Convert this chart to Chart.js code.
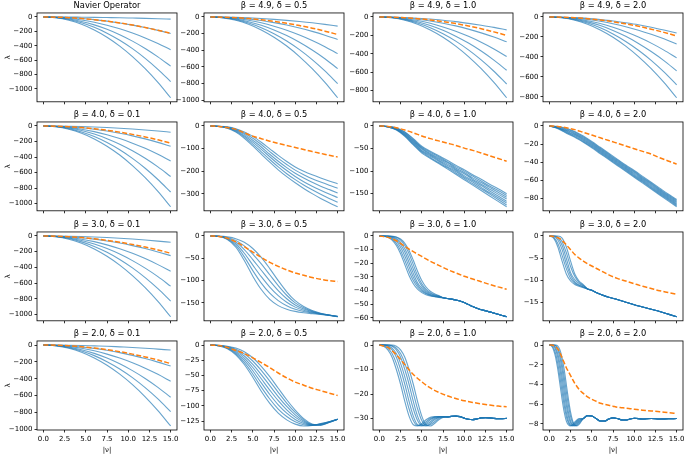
<!DOCTYPE html>
<html>
<head>
<meta charset="utf-8">
<script src="https://cdn.jsdelivr.net/npm/chart.js@4.4.0/dist/chart.umd.min.js"></script>
<style>
html, body { margin: 0; padding: 0; background: #fff; overflow: hidden; width: 685px; height: 454px; }
#fig { position: relative; width: 685px; height: 454px; overflow: hidden; }
#fig canvas { position: absolute; }
</style>
</head>
<body>
<div id="fig"></div>
<script>
// sample positions along |nu|
var xFan = [0, 1.5, 3, 4.5, 6, 7.5, 9, 10.5, 12, 13.5, 15];
var xOne = [0, 1, 2, 3, 4, 5, 6, 7, 8, 9, 10, 11, 12, 13, 14, 15];
var xHalf = [0, 0.5, 1, 1.5, 2, 2.5, 3, 3.5, 4, 4.5, 5, 5.5, 6, 6.5, 7, 7.5, 8, 8.5, 9, 9.5, 10, 10.5, 11, 11.5, 12, 12.5, 13, 13.5, 14, 14.5, 15];
var x11 = [0, 0.5, 1, 1.5, 2, 2.5, 3, 3.5, 4, 4.5, 5, 5.5, 6, 7, 8, 9, 10, 11, 12, 13, 14, 15];
var x15 = [0, 0.25, 0.5, 0.75, 1, 1.25, 1.5, 1.75, 2, 2.25, 2.5, 2.75, 3, 3.25, 3.5, 4, 4.5, 5, 5.5, 6, 6.5, 7, 7.5, 8, 8.5, 9, 9.5, 10, 11, 12, 13, 14, 15];

var X_TICKS = [0, 2.5, 5, 7.5, 10, 12.5, 15];

var TITLES = [
  'Navier Operator', 'β = 4.9, δ = 0.5', 'β = 4.9, δ = 1.0', 'β = 4.9, δ = 2.0',
  'β = 4.0, δ = 0.1', 'β = 4.0, δ = 0.5', 'β = 4.0, δ = 1.0', 'β = 4.0, δ = 2.0',
  'β = 3.0, δ = 0.1', 'β = 3.0, δ = 0.5', 'β = 3.0, δ = 1.0', 'β = 3.0, δ = 2.0',
  'β = 2.0, δ = 0.1', 'β = 2.0, δ = 0.5', 'β = 2.0, δ = 1.0', 'β = 2.0, δ = 2.0'
];

var Y_TICKS = [
  [0, -200, -400, -600, -800, -1000], [0, -200, -400, -600, -800, -1000], [0, -200, -400, -600, -800], [0, -200, -400, -600, -800],
  [0, -200, -400, -600, -800, -1000], [0, -100, -200, -300], [0, -50, -100, -150], [0, -20, -40, -60, -80],
  [0, -200, -400, -600, -800, -1000], [0, -50, -100, -150], [0, -10, -20, -30, -40, -50, -60], [0, -5, -10, -15],
  [0, -200, -400, -600, -800, -1000], [0, -25, -50, -75, -100, -125], [0, -10, -20, -30], [0, -2, -4, -6, -8]
];

// row 1
var navBlue = [
  [0, 0, -1, -3, -5, -8, -11, -15, -19, -24, -30],
  [0, -2, -9, -21, -37, -58, -83, -113, -147, -186, -230],
  [0, -5, -18, -41, -73, -114, -164, -223, -291, -369, -455],
  [0, -7, -27, -62, -110, -171, -247, -336, -438, -555, -685],
  [0, -9, -36, -81, -144, -225, -324, -441, -576, -729, -900],
  [0, -11, -45, -101, -180, -281, -405, -551, -720, -911, -1125]
];
var navOrange = [0, -2, -9, -21, -37, -58, -83, -112, -146, -185, -228];

var b49d05Blue = [
  [0, -1, -4, -10, -18, -28, -40, -54, -70, -89, -110],
  [0, -3, -11, -24, -43, -68, -97, -132, -173, -219, -270],
  [0, -4, -18, -40, -70, -110, -158, -216, -282, -356, -440],
  [0, -6, -25, -56, -99, -155, -223, -304, -397, -502, -620],
  [0, -8, -32, -72, -128, -200, -288, -392, -512, -648, -800],
  [0, -10, -39, -87, -155, -243, -349, -475, -621, -786, -970]
];
var b49d05Orange = [0, -2, -8, -19, -34, -53, -76, -103, -134, -170, -210];

var b49d10Blue = [
  [0, -1, -6, -13, -22, -35, -50, -69, -90, -113, -140],
  [0, -3, -11, -24, -43, -68, -97, -132, -173, -219, -270],
  [0, -4, -17, -39, -69, -108, -155, -211, -275, -348, -430],
  [0, -6, -23, -52, -93, -145, -209, -284, -371, -470, -580],
  [0, -7, -29, -66, -117, -183, -263, -358, -467, -591, -730],
  [0, -9, -35, -79, -141, -220, -317, -431, -563, -713, -880]
];
var b49d10Orange = [0, -2, -8, -18, -32, -50, -72, -98, -128, -162, -200];

var b49d20Blue = [
  [0, -2, -6, -14, -26, -40, -58, -78, -102, -130, -160],
  [0, -3, -11, -24, -43, -68, -97, -132, -173, -219, -270],
  [0, -4, -16, -37, -66, -103, -148, -201, -262, -332, -410],
  [0, -5, -22, -49, -86, -135, -194, -265, -346, -437, -540],
  [0, -7, -27, -61, -109, -170, -245, -333, -435, -551, -680],
  [0, -8, -32, -73, -130, -203, -292, -397, -518, -656, -810]
];
var b49d20Orange = [0, -2, -8, -17, -30, -48, -68, -93, -122, -154, -190];

// row 2
var b40d01Blue = [
  [0, -1, -3, -7, -13, -20, -29, -39, -51, -65, -80],
  [0, -3, -10, -23, -42, -65, -94, -127, -166, -211, -260],
  [0, -5, -18, -41, -72, -113, -162, -221, -288, -365, -450],
  [0, -7, -26, -59, -104, -163, -234, -319, -416, -527, -650],
  [0, -9, -34, -77, -136, -213, -306, -417, -544, -689, -850],
  [0, -10, -42, -94, -166, -260, -374, -510, -666, -842, -1040]
];
var b40d01Orange = [0, -2, -9, -20, -35, -55, -79, -108, -141, -178, -220];

var b40d05Blue = [
  [0, -1, -4, -12, -26, -46, -72, -101, -130, -157, -181, -200, -216, -230, -243, -255],
  [0, -1, -5, -15, -32, -54, -82, -113, -143, -170, -195, -215, -233, -248, -262, -275],
  [0, -1, -6, -18, -37, -63, -93, -125, -156, -184, -209, -230, -249, -266, -281, -296],
  [0, -2, -8, -21, -43, -71, -103, -136, -168, -197, -223, -246, -266, -284, -301, -316],
  [0, -2, -9, -24, -48, -80, -114, -148, -181, -211, -237, -261, -282, -302, -320, -337],
  [0, -2, -10, -27, -54, -88, -124, -160, -194, -224, -251, -276, -299, -320, -339, -357]
];
var b40d05Orange = [0, -2, -7, -15, -30, -45, -56, -67, -77, -86, -95, -104, -113, -121, -129, -137];

var b40d10Blue = [
  [0, -1, -4, -13, -28, -45, -56, -66, -76, -87, -97, -108, -118, -129, -139, -150],
  [0, -1, -5, -14, -30, -47, -58, -68, -79, -90, -100, -111, -122, -133, -143, -154],
  [0, -1, -5, -16, -32, -49, -61, -71, -81, -93, -103, -115, -125, -136, -147, -158],
  [0, -1, -6, -17, -34, -51, -63, -73, -84, -96, -106, -118, -129, -140, -151, -162],
  [0, -2, -7, -19, -36, -54, -65, -76, -87, -98, -110, -121, -132, -144, -155, -167],
  [0, -2, -8, -20, -38, -56, -67, -78, -90, -101, -113, -124, -136, -148, -159, -171],
  [0, -2, -8, -22, -40, -58, -70, -81, -92, -104, -116, -128, -139, -151, -163, -175],
  [0, -2, -9, -23, -42, -60, -72, -83, -95, -107, -119, -131, -143, -155, -167, -179]
];
var b40d10Orange = [0, -1, -4, -9, -15, -22, -28, -33, -38, -43, -49, -54, -60, -66, -72, -78];

var b40d20Blue = [
  [0, -0.5, -2.5, -6, -11, -17, -23.5, -30, -36.5, -43, -49, -55.5, -62, -68.5, -75, -81],
  [0, -0.9, -3.3, -6.9, -12, -18, -24.5, -31, -37.5, -44, -50.1, -56.6, -63.1, -69.6, -76.1, -82.1],
  [0, -1.2, -4.1, -7.9, -13, -19, -25.5, -32, -38.5, -45, -51.1, -57.6, -64.1, -70.6, -77.1, -83.3],
  [0, -1.6, -4.9, -8.8, -14, -20, -26.5, -33, -39.5, -46, -52.2, -58.7, -65.2, -71.7, -78.2, -84.4],
  [0, -1.9, -5.6, -9.7, -15, -21, -27.5, -34, -40.5, -47, -53.3, -59.8, -66.3, -72.8, -79.3, -85.6],
  [0, -2.3, -6.4, -10.6, -16, -22, -28.5, -35, -41.5, -48, -54.4, -60.9, -67.4, -73.9, -80.4, -86.7],
  [0, -2.6, -7.2, -11.6, -17, -23, -29.5, -36, -42.5, -49, -55.4, -61.9, -68.4, -74.9, -81.4, -87.9],
  [0, -3, -8, -12.5, -18, -24, -30.5, -37, -43.5, -50, -56.5, -63, -69.5, -76, -82.5, -89]
];
var b40d20Orange = [0, -0.5, -2, -4, -7, -10, -13, -16, -19, -22, -25, -28, -31, -35, -38.5, -42];

// row 3
var b30d01Blue = [
  [0, -1, -3, -7, -13, -20, -29, -39, -51, -65, -80],
  [0, -3, -10, -23, -40, -63, -90, -123, -160, -203, -250],
  [0, -5, -18, -41, -72, -113, -162, -221, -288, -365, -450],
  [0, -6, -26, -58, -102, -160, -230, -314, -410, -518, -640],
  [0, -8, -33, -75, -133, -208, -299, -407, -531, -672, -830],
  [0, -10, -41, -93, -165, -258, -371, -505, -659, -834, -1030]
];
var b30d01Orange = [0, -2, -9, -20, -35, -55, -79, -108, -141, -178, -220];

var b30d05Blue = [
  [0, -1, -8, -25, -55, -90, -120, -142, -156, -164, -169, -172, -174, -176, -178, -180],
  [0, -0.9, -6.8, -21.2, -46.8, -77.6, -105.6, -128.2, -144.8, -156.2, -164.2, -169.2, -172.6, -175.4, -177.8, -180.2],
  [0, -0.7, -5.6, -17.4, -38.6, -65.2, -91.2, -114.4, -133.6, -148.4, -159.4, -166.4, -171.2, -174.8, -177.6, -180.4],
  [0, -0.6, -4.4, -13.6, -30.4, -52.8, -76.8, -100.6, -122.4, -140.6, -154.6, -163.6, -169.8, -174.2, -177.4, -180.6],
  [0, -0.4, -3.2, -9.8, -22.2, -40.4, -62.4, -86.8, -111.2, -132.8, -149.8, -160.8, -168.4, -173.6, -177.2, -180.8],
  [0, -0.3, -2, -6, -14, -28, -48, -73, -100, -125, -145, -158, -167, -173, -177, -181]
];
var b30d05Orange = [0, -1, -5, -13, -24, -36, -48, -59, -68, -76, -83, -88, -93, -97, -100, -102];

var b30d10Heads = [
  [0, -0.3, -1, -3, -7, -13, -21, -29, -35, -39, -41.5, -43, -44, -44.5, -45],
  [0, -0.2, -0.7, -2.2, -5.4, -10.6, -17.8, -25.8, -32.6, -37.4, -40.5, -42.4, -43.6, -44.3, -44.8],
  [0, -0.1, -0.4, -1.4, -3.8, -8.2, -14.6, -22.6, -30.2, -35.8, -39.5, -41.8, -43.2, -44.1, -44.6],
  [0, 0, -0.2, -0.9, -2.6, -6.2, -11.8, -19.4, -27.4, -34.2, -38.2, -41, -42.8, -43.9, -44.4],
  [0, 0, -0.1, -0.6, -1.8, -4.6, -9.4, -16.2, -24.2, -31.4, -36.6, -40, -42.2, -43.4, -44.2],
  [0, 0, 0, -0.3, -1, -3, -7, -13, -21, -29, -35, -39, -41.5, -43, -44],
  [0, 0, 0, -0.2, -0.7, -2.2, -5.4, -10.6, -17.8, -25.8, -32.6, -37.4, -40.5, -42.4, -43.6]
];
var b30d10Tail = [-45.3, -45.8, -46.3, -46.9, -47.7, -48.8, -50.2, -51.7, -53, -54, -54.8, -55.6, -56.5, -57.4, -58.3, -59.2];
var b30d10Orange = [0, -1, -3.5, -7.5, -11.5, -15, -18.5, -21.5, -24.5, -27, -29.5, -31.5, -33.5, -35.5, -37.3, -39];

var b30d20Heads = [
  [0, -0.5, -2.5, -5.7, -8.6, -10.2, -11, -11.4, -11.7],
  [0, -0.3, -1.7, -4.4, -7.4, -9.6, -10.7, -11.2, -11.6],
  [0, -0.1, -0.9, -3.1, -6.3, -8.9, -10.4, -11.1, -11.5],
  [0, 0, -0.4, -2.1, -5.1, -8.3, -9.9, -10.8, -11.3],
  [0, 0, -0.2, -1.3, -3.8, -6.9, -9.2, -10.5, -11.2],
  [0, 0, 0, -0.5, -2.5, -5.7, -8.6, -10.2, -11]
];
var b30d20Tail = [-12, -12.3, -12.8, -13.2, -13.9, -14.4, -15, -15.6, -16.1, -16.6, -17.1, -17.7, -18.3];
var b30d20Orange = [0, -0.1, -0.4, -1, -2, -3.1, -4.2, -5, -5.7, -6.3, -6.8, -7.3, -7.8, -8.8, -9.6, -10.2, -10.8, -11.4, -11.9, -12.4, -12.8, -13.2];

// row 4
var b20d01Blue = [
  [0, -1, -2, -5, -10, -15, -22, -29, -38, -49, -60],
  [0, -3, -10, -23, -40, -63, -90, -123, -160, -203, -250],
  [0, -4, -17, -39, -69, -108, -155, -211, -275, -348, -430],
  [0, -6, -25, -56, -99, -155, -223, -304, -397, -502, -620],
  [0, -8, -32, -71, -126, -198, -284, -387, -506, -640, -790],
  [0, -10, -38, -86, -154, -240, -346, -470, -614, -778, -960]
];
var b20d01Orange = [0, -2, -9, -20, -35, -55, -79, -108, -141, -178, -220];

var b20d05Blue = [
  [0, -1.5, -6, -16, -32, -53, -76, -96, -112, -123, -130, -133, -132, -129, -126, -122],
  [0, -1.3, -5.3, -14.2, -28.5, -47.7, -69.2, -88.7, -105.2, -117.5, -126.2, -131, -132, -129.5, -126, -122],
  [0, -1.2, -4.7, -12.3, -25, -42.3, -62.3, -81.3, -98.3, -112, -122.3, -129, -132, -130, -126.5, -122],
  [0, -1, -4, -10.5, -21.5, -37, -55.5, -74, -91.5, -106.5, -118.5, -127, -131.5, -130.5, -126.5, -122],
  [0, -0.8, -3.3, -8.7, -18, -31.7, -48.7, -66.7, -84.7, -101, -114.7, -125, -131, -131, -127, -122],
  [0, -0.7, -2.7, -6.8, -14.5, -26.3, -41.8, -59.3, -77.8, -95.5, -110.8, -123, -130.5, -131.5, -127, -122],
  [0, -0.5, -2, -5, -11, -21, -35, -52, -71, -90, -107, -121, -130, -132, -127.5, -122]
];
var b20d05Orange = [0, -1, -4, -9, -14, -21, -29, -37, -46, -54, -61, -66, -71, -75, -79, -83];

var b20d10Heads = [
  [0, -0.5, -2, -5, -10, -16, -23, -29, -32.5, -33, -32, -30.5, -29.5, -29.2, -29.2, -29.3],
  [0, -0.25, -1.25, -3.5, -7.5, -13, -19.5, -26, -30.8, -32.8, -32.5, -31.3, -30, -29.4, -29.2, -29.3],
  [0, 0, -0.5, -2, -5, -10, -16, -23, -29, -32.5, -33, -32, -30.5, -29.5, -29.2, -29.2],
  [0, 0, -0.25, -1.25, -3.5, -7.5, -13, -19.5, -26, -30.8, -32.8, -32.5, -31.3, -30, -29.4, -29.2],
  [0, 0, 0, -0.5, -2, -5, -10, -16, -23, -29, -32.5, -33, -32, -30.5, -29.5, -29.2],
  [0, 0, 0, -0.25, -1.25, -3.5, -7.5, -13, -19.5, -26, -30.8, -32.8, -32.5, -31.3, -30, -29.4],
  [0, 0, 0, 0, -0.5, -2, -5, -10, -16, -23, -29, -32.5, -33, -32, -30.5, -29.5]
];
var b20d10Tail = [-29.3, -29.1, -29, -29.2, -29.8, -30.3, -30.4, -30.1, -29.7, -29.6, -29.7, -29.9, -30, -30, -29.9];
var b20d10Orange = [0, -1, -4, -8, -12, -15, -17.5, -19.3, -20.7, -21.8, -22.7, -23.4, -24, -24.5, -24.9, -25.2];

var b20d20Heads = [
  [0, -0.1, -0.5, -1.3, -2.5, -4, -5.5, -6.8, -7.7, -8.1, -8.2, -8.05, -7.8, -7.6, -7.45],
  [0, -0.05, -0.3, -0.9, -1.9, -3.25, -4.75, -6.15, -7.25, -7.9, -8.15, -8.13, -7.93, -7.7, -7.53],
  [0, 0, -0.1, -0.5, -1.3, -2.5, -4, -5.5, -6.8, -7.7, -8.1, -8.2, -8.05, -7.8, -7.6],
  [0, 0, -0.05, -0.3, -0.9, -1.9, -3.25, -4.75, -6.15, -7.25, -7.9, -8.15, -8.13, -7.93, -7.7],
  [0, 0, 0, -0.1, -0.5, -1.3, -2.5, -4, -5.5, -6.8, -7.7, -8.1, -8.2, -8.05, -7.8],
  [0, 0, 0, -0.05, -0.3, -0.9, -1.9, -3.25, -4.75, -6.15, -7.25, -7.9, -8.15, -8.13, -7.93],
  [0, 0, 0, 0, -0.1, -0.5, -1.3, -2.5, -4, -5.5, -6.8, -7.7, -8.1, -8.2, -8.05]
];
var b20d20Tail = [-7.45, -7.15, -7.2, -7.45, -7.7, -7.7, -7.5, -7.38, -7.45, -7.58, -7.6, -7.5, -7.42, -7.5, -7.45, -7.5, -7.47, -7.45];
var b20d20Orange = [0, 0, -0.05, -0.2, -0.4, -0.8, -1.3, -1.8, -2.3, -2.7, -3.1, -3.5, -3.9, -4.2, -4.5, -4.9, -5.25, -5.5, -5.7, -5.9, -6.0, -6.1, -6.2, -6.3, -6.35, -6.4, -6.45, -6.5, -6.6, -6.68, -6.75, -6.85, -6.93];

function withTail(heads, tail) {
  return heads.map(function (h) { return h.concat(tail); });
}

var PANELS = [
  { blueX: xFan, blue: navBlue, orangeX: xFan, orange: navOrange },
  { blueX: xFan, blue: b49d05Blue, orangeX: xFan, orange: b49d05Orange },
  { blueX: xFan, blue: b49d10Blue, orangeX: xFan, orange: b49d10Orange },
  { blueX: xFan, blue: b49d20Blue, orangeX: xFan, orange: b49d20Orange },
  { blueX: xFan, blue: b40d01Blue, orangeX: xFan, orange: b40d01Orange },
  { blueX: xOne, blue: b40d05Blue, orangeX: xOne, orange: b40d05Orange },
  { blueX: xOne, blue: b40d10Blue, orangeX: xOne, orange: b40d10Orange },
  { blueX: xOne, blue: b40d20Blue, orangeX: xOne, orange: b40d20Orange },
  { blueX: xFan, blue: b30d01Blue, orangeX: xFan, orange: b30d01Orange },
  { blueX: xOne, blue: b30d05Blue, orangeX: xOne, orange: b30d05Orange },
  { blueX: xHalf, blue: withTail(b30d10Heads, b30d10Tail), orangeX: xOne, orange: b30d10Orange },
  { blueX: x11, blue: withTail(b30d20Heads, b30d20Tail), orangeX: x11, orange: b30d20Orange },
  { blueX: xFan, blue: b20d01Blue, orangeX: xFan, orange: b20d01Orange },
  { blueX: xOne, blue: b20d05Blue, orangeX: xOne, orange: b20d05Orange },
  { blueX: xHalf, blue: withTail(b20d10Heads, b20d10Tail), orangeX: xOne, orange: b20d10Orange },
  { blueX: x15, blue: withTail(b20d20Heads, b20d20Tail), orangeX: x15, orange: b20d20Orange }
];

// where each axes box sits in the figure
var AREA_L = [37, 204, 373, 543];
var AREA_T = [13, 122, 232, 341];
var AREA_W = 140, AREA_H = 89;
var PAD_SIDE = 36, PAD_TOP = 14;
var FONT = 'DejaVu Sans';

var framePlugin = {
  id: 'frame',
  afterDraw: function (chart) {
    var a = chart.chartArea, c = chart.ctx;
    c.save();
    c.strokeStyle = '#000';
    c.lineWidth = 0.8;
    c.strokeRect(a.left, a.top, a.right - a.left, a.bottom - a.top);
    c.restore();
  }
};

function pts(xs, ys) {
  return ys.map(function (y, i) { return { x: xs[i], y: y }; });
}

var fig = document.getElementById('fig');

PANELS.forEach(function (p, idx) {
  var row = Math.floor(idx / 4), col = idx % 4;
  var bottomRow = row === 3, firstCol = col === 0;
  var padB = bottomRow ? 24 : 6;
  var w = AREA_W + 2 * PAD_SIDE, h = AREA_H + PAD_TOP + padB;

  var cv = document.createElement('canvas');
  cv.width = w;
  cv.height = h;
  cv.style.left = (AREA_L[col] - PAD_SIDE) + 'px';
  cv.style.top = (AREA_T[row] - PAD_TOP) + 'px';
  fig.appendChild(cv);

  var all = p.orange.concat.apply(p.orange, p.blue);
  var lo = Math.min.apply(null, all), hi = Math.max.apply(null, all);
  var margin = (hi - lo) * 0.05;

  var datasets = [{
    data: pts(p.orangeX, p.orange),
    borderColor: '#ff7f0e',
    borderWidth: 1.5,
    borderDash: [5, 2.2]
  }];
  p.blue.forEach(function (ys) {
    datasets.push({
      data: pts(p.blueX, ys),
      borderColor: 'rgba(31,119,180,0.68)',
      borderWidth: 1.1
    });
  });

  var tickFont = { family: FONT, size: 7 };
  var yTicks = Y_TICKS[idx];

  new Chart(cv, {
    type: 'line',
    data: { datasets: datasets },
    options: {
      responsive: false,
      animation: false,
      events: [],
      layout: { padding: 0 },
      elements: {
        point: { radius: 0 },
        line: { cubicInterpolationMode: 'monotone', fill: false }
      },
      plugins: {
        legend: { display: false },
        tooltip: { enabled: false },
        title: {
          display: true,
          text: TITLES[idx],
          color: '#000',
          font: { family: FONT, size: 8.3, weight: 'normal' },
          padding: { top: 2, bottom: 2 }
        }
      },
      scales: {
        x: {
          type: 'linear',
          min: -0.75,
          max: 15.75,
          afterBuildTicks: function (s) { s.ticks = X_TICKS.map(function (v) { return { value: v }; }); },
          afterFit: function (s) { s.height = padB; },
          ticks: {
            display: bottomRow,
            color: '#000',
            font: tickFont,
            padding: 2,
            maxRotation: 0,
            callback: function (v) { return Number(v).toFixed(1); }
          },
          grid: { display: true, drawOnChartArea: false, drawTicks: true, tickLength: 2.5, color: '#000', lineWidth: 0.8 },
          border: { display: false },
          title: { display: bottomRow, text: '|ν|', color: '#000', font: { family: FONT, size: 7 }, padding: 0 }
        },
        y: {
          type: 'linear',
          min: lo - margin,
          max: hi + margin,
          afterBuildTicks: function (s) { s.ticks = yTicks.map(function (v) { return { value: v }; }); },
          afterFit: function (s) { s.width = PAD_SIDE; },
          ticks: {
            color: '#000',
            font: tickFont,
            padding: 2,
            callback: function (v) { return String(v).replace('-', '\u2212'); }
          },
          grid: { display: true, drawOnChartArea: false, drawTicks: true, tickLength: 2.5, color: '#000', lineWidth: 0.8 },
          border: { display: false },
          title: { display: firstCol, text: 'λ', color: '#000', font: { family: FONT, size: 7 }, padding: { top: 3, bottom: 0 } }
        },
        // empty spacer on the right so the box and its title stay centred
        spacer: {
          type: 'linear',
          position: 'right',
          min: 0,
          max: 1,
          afterFit: function (s) { s.width = PAD_SIDE; },
          ticks: { display: false },
          grid: { display: false },
          border: { display: false }
        }
      }
    },
    plugins: [framePlugin]
  });
});
</script>
</body>
</html>
